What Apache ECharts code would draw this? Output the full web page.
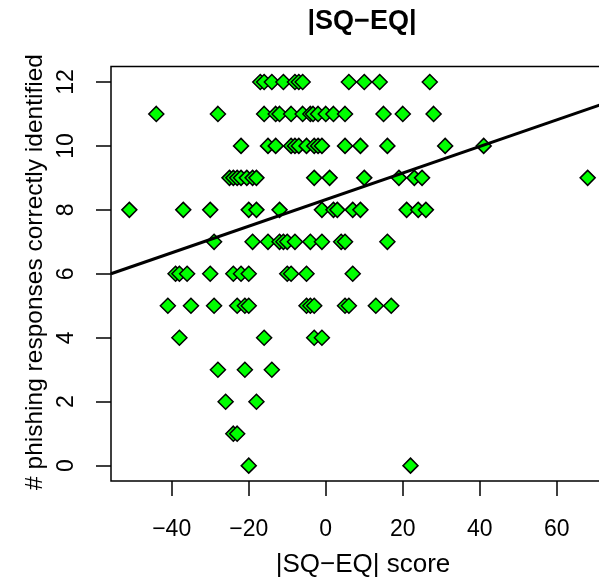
<!DOCTYPE html>
<html>
<head>
<meta charset="utf-8">
<script src="https://cdn.jsdelivr.net/npm/echarts@6/dist/echarts.min.js"></script>
<style>
html,body{margin:0;padding:0;background:#fff;overflow:hidden;width:599px;height:587px;}
#chart{width:630px;height:587px;}
</style>
</head>
<body>
<div id="chart"></div>
<script>
// Scores (x) of the points at each count level (y)
const score12 = [-17, -16, -14, -11, -8, -7, -6, 6, 10, 14, 27];
const score11 = [-44, -28, -16, -13, -12, -9, -6, -4, -3.3, -2, 0, 2, 5, 15, 20, 28];
const score10 = [-22, -15, -13, -9, -8, -7, -5, -3, -2, -1, 5, 9, 16, 31, 41];
const score9  = [-25, -24, -23, -22, -20.5, -19, -18, -3, 1, 10, 19, 23, 25, 68];
const score8  = [-51, -37, -30, -20, -18, -12, -1, 2, 3, 7, 9, 21, 24, 26];
const score7  = [-29, -19, -15, -12, -11, -10, -8, -4, -1, 4, 5, 16];
const score6  = [-39, -38, -36, -30, -24, -22, -20, -10, -9, -5, 7];
const score5  = [-41, -35, -29, -23, -21, -20, -5, -4, -3, 5, 6, 13, 17];
const score4  = [-38, -16, -3, -1];
const score3  = [-28, -21, -14];
const score2  = [-26, -18];
const score1  = [-24, -23];
const score0  = [-20, 22];
const countLevels = [12, 11, 10, 9, 8, 7, 6, 5, 4, 3, 2, 1, 0];
const scoresByLevel = [score12, score11, score10, score9, score8, score7, score6, score5, score4, score3, score2, score1, score0];

// Tick labels
const xTicks = [-40, -20, 0, 20, 40, 60];
const yTicks = [0, 2, 4, 6, 8, 10, 12];

// Fitted line (intercept, slope)
const lmIntercept = 8.32;
const lmSlope = 0.0416;

// Axis ranges (R default 4% expansion of data range)
const xMin = -55.76, xMax = 72.76;
const yMin = -0.48, yMax = 12.48;

const points = [];
countLevels.forEach((c, i) => scoresByLevel[i].forEach(s => points.push([s, c])));
const fitLine = [[xMin, lmIntercept + lmSlope * xMin], [xMax, lmIntercept + lmSlope * xMax]];

const FONT = "'Liberation Sans', Arial, Helvetica, sans-serif";
const chart = echarts.init(document.getElementById('chart'), null, {renderer: 'canvas'});
chart.setOption({
  animation: false,
  backgroundColor: '#ffffff',
  grid: {
    left: 111, top: 66.6, width: 495, height: 414.4,
    outerBoundsMode: 'none', containLabel: false,
    show: true, borderColor: '#000', borderWidth: 1.5, backgroundColor: 'transparent'
  },
  xAxis: {
    type: 'value', min: xMin, max: xMax,
    axisLine: {show: false, onZero: false},
    splitLine: {show: false},
    axisTick: {show: true, inside: false, length: 15, customValues: xTicks, lineStyle: {color: '#000', width: 1.5}},
    axisLabel: {
      customValues: xTicks, margin: 49, verticalAlign: 'middle', align: 'center',
      fontSize: 23, fontFamily: FONT, color: '#000',
      formatter: v => (v < 0 ? '\u2212' + Math.abs(v) : String(v))
    }
  },
  yAxis: {
    type: 'value', min: yMin, max: yMax,
    axisLine: {show: false, onZero: false},
    splitLine: {show: false},
    axisTick: {show: true, inside: false, length: 15, customValues: yTicks, lineStyle: {color: '#000', width: 1.5}},
    axisLabel: {
      customValues: yTicks, margin: 44, rotate: 90, verticalAlign: 'middle', align: 'center',
      fontSize: 23, fontFamily: FONT, color: '#000'
    }
  },
  graphic: [
    {type: 'text', x: 362, y: 22, style: {text: '|SQ\u2212EQ|', font: 'bold 27px ' + FONT, fill: '#000', align: 'center', verticalAlign: 'middle'}},
    {type: 'text', x: 363, y: 565, style: {text: '|SQ\u2212EQ| score', font: '26px ' + FONT, fill: '#000', align: 'center', verticalAlign: 'middle'}},
    {type: 'text', x: 35, y: 272, rotation: Math.PI / 2, style: {text: '# phishing responses correctly identified', font: '24.5px ' + FONT, fill: '#000', align: 'center', verticalAlign: 'middle'}}
  ],
  series: [
    {
      type: 'scatter', data: points, symbol: 'diamond', symbolSize: 15,
      itemStyle: {color: '#00ff00', borderColor: '#000', borderWidth: 1.5, opacity: 1},
      emphasis: {disabled: true}, z: 2
    },
    {
      type: 'line', data: fitLine, showSymbol: false, symbol: 'none',
      lineStyle: {color: '#000', width: 3}, z: 3, emphasis: {disabled: true}
    }
  ]
});
</script>
</body>
</html>
